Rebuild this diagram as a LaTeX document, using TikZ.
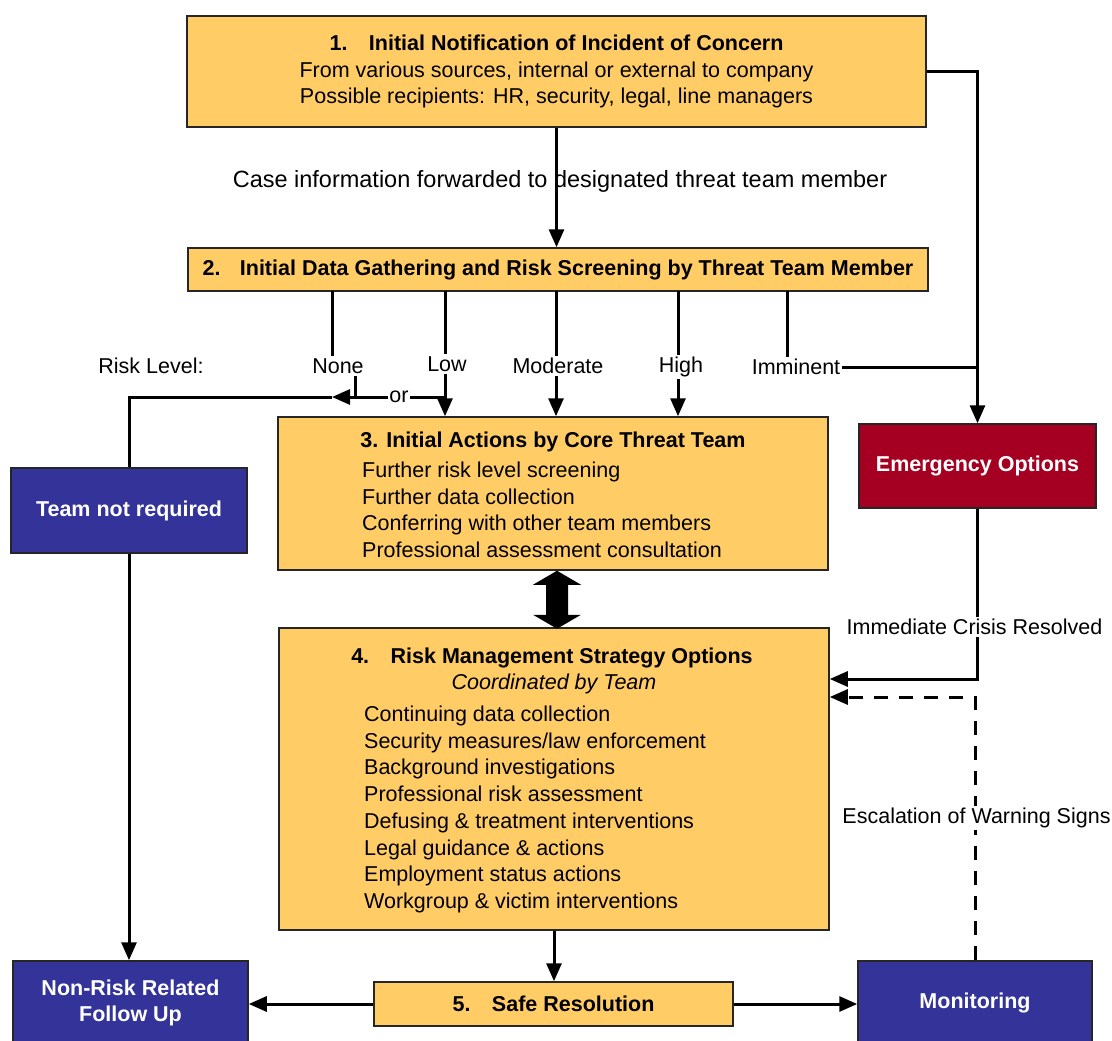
\documentclass[tikz,border=0pt]{standalone}
\usepackage{fontspec}
\setmainfont{Liberation Sans}
\usetikzlibrary{arrows.meta,positioning}

\definecolor{boxorange}{HTML}{FFCC66}
\definecolor{teamblue}{HTML}{333399}
\definecolor{alertred}{HTML}{A50021}

\newcommand{\flowfont}{\fontsize{21.5pt}{26.5pt}\selectfont}
\newcommand{\casefont}{\fontsize{23.5pt}{28pt}\selectfont}

\tikzset{
  obox/.style={draw=black!85, line width=1.5pt, fill=boxorange, inner sep=0pt, font=\flowfont},
  bbox/.style={draw=black!85, line width=1.5pt, fill=teamblue, text=white, inner sep=0pt,
               align=center, font=\flowfont\bfseries},
  rbox/.style={bbox, fill=alertred},
  lbl/.style={inner sep=2pt, font=\flowfont},
  itm/.style={anchor=base west, inner sep=0pt, font=\flowfont},
  conn/.style={line width=3pt},
  arr/.style={-{Triangle[length=18pt,width=15pt]}},
}

\begin{document}
\begin{tikzpicture}[x=1pt, y=-1pt]
  \useasboundingbox (0,0) rectangle (1112,1041);

  % boxes
  \node[obox, minimum width=739pt, minimum height=111pt, align=center] (notify) at (556.5,71.5)
    {\textbf{1.\hspace{1em}Initial Notification of Incident of Concern}\\
     From various sources, internal or external to company\\
     Possible recipients: HR, security, legal, line managers};
  \node[obox, minimum width=740pt, minimum height=43pt, font=\flowfont\bfseries] (gather) at (558,269.5)
    {2.\hspace{0.9em}Initial Data Gathering and Risk Screening by Threat Team Member};
  \node[obox, minimum width=550pt, minimum height=153pt] (core) at (553,493.5) {};
  \node[obox, minimum width=550pt, minimum height=302pt] (strategy) at (554,779) {};
  \node[obox, minimum width=359pt, minimum height=44pt, font=\flowfont\bfseries] (safe) at (553.5,1004)
    {5.\hspace{1em}Safe Resolution};
  \node[rbox, minimum width=237pt, minimum height=84pt] (emerg) at (977.5,466) {Emergency Options};
  \node[bbox, minimum width=236pt, minimum height=85pt] (notreq) at (129,510.5) {Team not required};
  \node[bbox, minimum width=235pt, minimum height=84pt] (nonrisk) at (130.5,1003) {Non-Risk Related\\Follow Up};
  \node[bbox, minimum width=234pt, minimum height=84pt] (monitor) at (975,1003) {Monitoring};

  % box 3 text
  \node[anchor=base, inner sep=0pt, font=\flowfont\bfseries] (core-title) at (553,447.5)
    {3. Initial Actions by Core Threat Team};
  \foreach \t [count=\i] in {Further risk level screening, Further data collection,
      Conferring with other team members, Professional assessment consultation}
    \node[itm] (core-\i) at (362,451+26.5*\i) {\t};

  % box 4 text
  \node[anchor=base, inner sep=0pt, font=\flowfont\bfseries] (strategy-title) at (552,663.5)
    {4.\hspace{1em}Risk Management Strategy Options};
  \node[anchor=base, inner sep=0pt, font=\flowfont\itshape] (strategy-sub) at (554,689.5)
    {Coordinated by Team};
  \foreach \t [count=\i] in {Continuing data collection, Security measures/law enforcement,
      Background investigations, Professional risk assessment,
      Defusing \& treatment interventions, Legal guidance \& actions,
      Employment status actions, Workgroup \& victim interventions}
    \node[itm] (strategy-\i) at (364,694.8+26.7*\i) {\t};

  % risk levels
  \node[lbl] (risklvl) at (151,366) {Risk Level:};
  \node[lbl] (none) at (338,366) {None};
  \node[lbl] (low) at (447,364) {Low};
  \node[lbl] (moderate) at (558,366) {Moderate};
  \node[lbl] (high) at (681,367) {High};
  \node[lbl] (imminent) at (796,367) {Imminent};

  \foreach \n/\x in {none/332, low/445, moderate/556, high/678, imminent/787}{
    \coordinate (b-\n) at (\x,291);
    \draw[conn] (b-\n) -- (b-\n |- \n.north);
  }
  \draw[conn, arr] (low.south -| b-low) -- (b-low |- core.north);
  \draw[conn, arr] (moderate.south -| b-moderate) -- (b-moderate |- core.north);
  \draw[conn, arr] (high.south -| b-high) -- (b-high |- core.north);

  % none / low to team not required
  \node[lbl, inner sep=1pt] (or) at (399,397) {or};
  \coordinate (nonejoin) at (355,397);
  \coordinate (ortip) at (332,397);
  \draw[conn] (b-low |- or) -- (or.east);
  \draw[conn, arr] (or.west) -- (ortip);
  \draw[conn] (none.south -| nonejoin) -- (nonejoin);
  \draw[conn] (ortip) -| (notreq.north);
  \draw[conn, arr] (notreq.south) -- (notreq.south |- nonrisk.north);

  % top
  \draw[conn, arr] (notify.south) -- (notify.south |- gather.north);
  \node[inner sep=0pt, font=\casefont] (fwd) at (560,181)
    {Case information forwarded to designated threat team member};
  \draw[conn, arr] (notify.east) -| (emerg.north);
  \draw[conn] (imminent.east) -- (imminent.east -| emerg.north);

  % core <-> strategy
  \fill ([xshift=4pt]core.south) -- ++(24,14) -- ++(-13,0) -- ++(0,30) -- ++(13,0)
    -- ++(-24,14) -- ++(-24,-14) -- ++(13,0) -- ++(0,-30) -- ++(-13,0) -- cycle;

  % right side
  \draw[conn, arr] (emerg.south) |- ([yshift=100pt]strategy.east);
  \node[lbl, fill=white] (crisis) at (974.5,627) {Immediate Crisis Resolved};
  \draw[conn, dash pattern=on 14pt off 11pt, arr] (monitor.north) |- ([yshift=82pt]strategy.east);
  \node[lbl, fill=white] (escal) at (976.5,818) {Escalation of Warning Signs};

  % bottom
  \draw[conn, arr] (strategy.south) -- (strategy.south |- safe.north);
  \draw[conn, arr] (safe.west) -- (safe.west -| nonrisk.east);
  \draw[conn, arr] (safe.east) -- (safe.east -| monitor.west);
\end{tikzpicture}
\end{document}
